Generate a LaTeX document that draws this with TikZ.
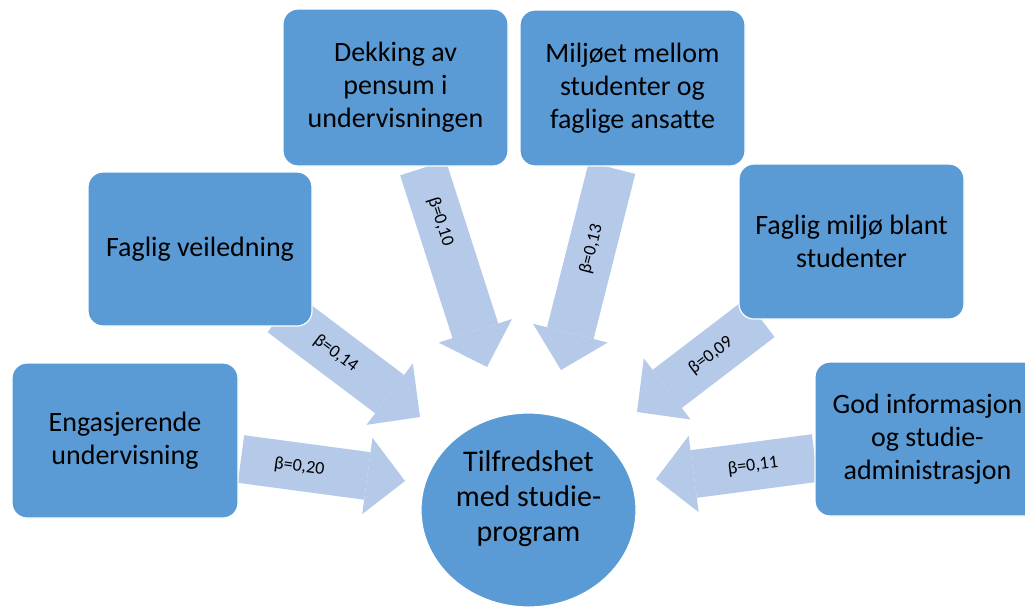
\documentclass[tikz,border=0pt]{standalone}
\usepackage{fontspec}
\setmainfont{Carlito}[Ligatures=NoCommon]
\usetikzlibrary{arrows.meta,shapes.geometric}
\definecolor{boxblue}{HTML}{5B9BD5}
\definecolor{arrblue}{HTML}{B5C9E8}
\begin{document}
\begin{tikzpicture}[x=1pt,y=-1pt,
  box/.style={rectangle, rounded corners=15pt, fill=boxblue, draw=white, line width=1.2pt,
    minimum width=225pt, minimum height=155pt, align=center,
    font=\fontsize{28}{33}\selectfont, text=black, inner sep=0pt},
  circ/.style={ellipse, fill=boxblue, draw=white, line width=1.2pt,
    minimum width=215pt, minimum height=194pt, inner sep=0pt},
  ctext/.style={align=center, font=\fontsize{30}{35}\selectfont, text=black, inner sep=0pt},
  flow/.style={line width=48pt, arrblue, -{Triangle[width=77pt,length=38pt,line width=0pt]}},
  lab/.style={sloped, font=\fontsize{18}{20}\selectfont, text=black, inner sep=0pt}
]
\useasboundingbox (0,0) rectangle (1025,608);
\clip (0,0) rectangle (1025,608);

% arrow end points
\coordinate (t1) at (241,459); \coordinate (h1) at (405,481);
\coordinate (t2) at (282,313); \coordinate (h2) at (420,417);
\coordinate (t3) at (423,168); \coordinate (h3) at (487,367);
\coordinate (t4) at (612,168); \coordinate (h4) at (561,370);
\coordinate (t5) at (760,318); \coordinate (h5) at (637,412);
\coordinate (t6) at (815,458); \coordinate (h6) at (656,479);

% block arrows
\draw[flow] (t1) -- node[lab,pos=0.355] (l1) {β=0,20} (h1);
\draw[flow] (t2) -- node[lab,pos=0.39] (l2) {β=0,14} (h2);
\draw[flow] (t3) -- node[lab,pos=0.27] (l3) {β=0,10} (h3);
\draw[flow] (t4) -- node[lab,pos=0.40] (l4) {β=0,13} (h4);
\draw[flow] (t5) -- node[lab,pos=0.40] (l5) {β=0,09} (h5);
\draw[flow] (t6) -- node[lab,pos=0.39] (l6) {β=0,11} (h6);

% boxes
\node[box, minimum height=155pt, minimum width=226pt] (eng) at (125,440.5) {Engasjerende\\undervisning};
\node[box, minimum height=154pt, minimum width=224pt] (fv) at (200,249) {Faglig veiledning};
\node[box, minimum height=157pt] (dek) at (395.5,87.5) {Dekking av\\pensum i\\undervisningen};
\node[box, minimum height=156pt] (mil) at (632.5,88) {Miljøet mellom\\studenter og\\faglige ansatte};
\node[box] (fm) at (851.5,241.5) {Faglig miljø blant\\studenter};
\node[box, minimum height=154pt] (god) at (927.5,439) {God informasjon\\og studie-\\administrasjon};

% target
\node[circ] (sat) at (528.5,510) {};
\node[ctext] (sattxt) at (528.5,499) {Tilfredshet\\med studie-\\program};
\end{tikzpicture}
\end{document}
